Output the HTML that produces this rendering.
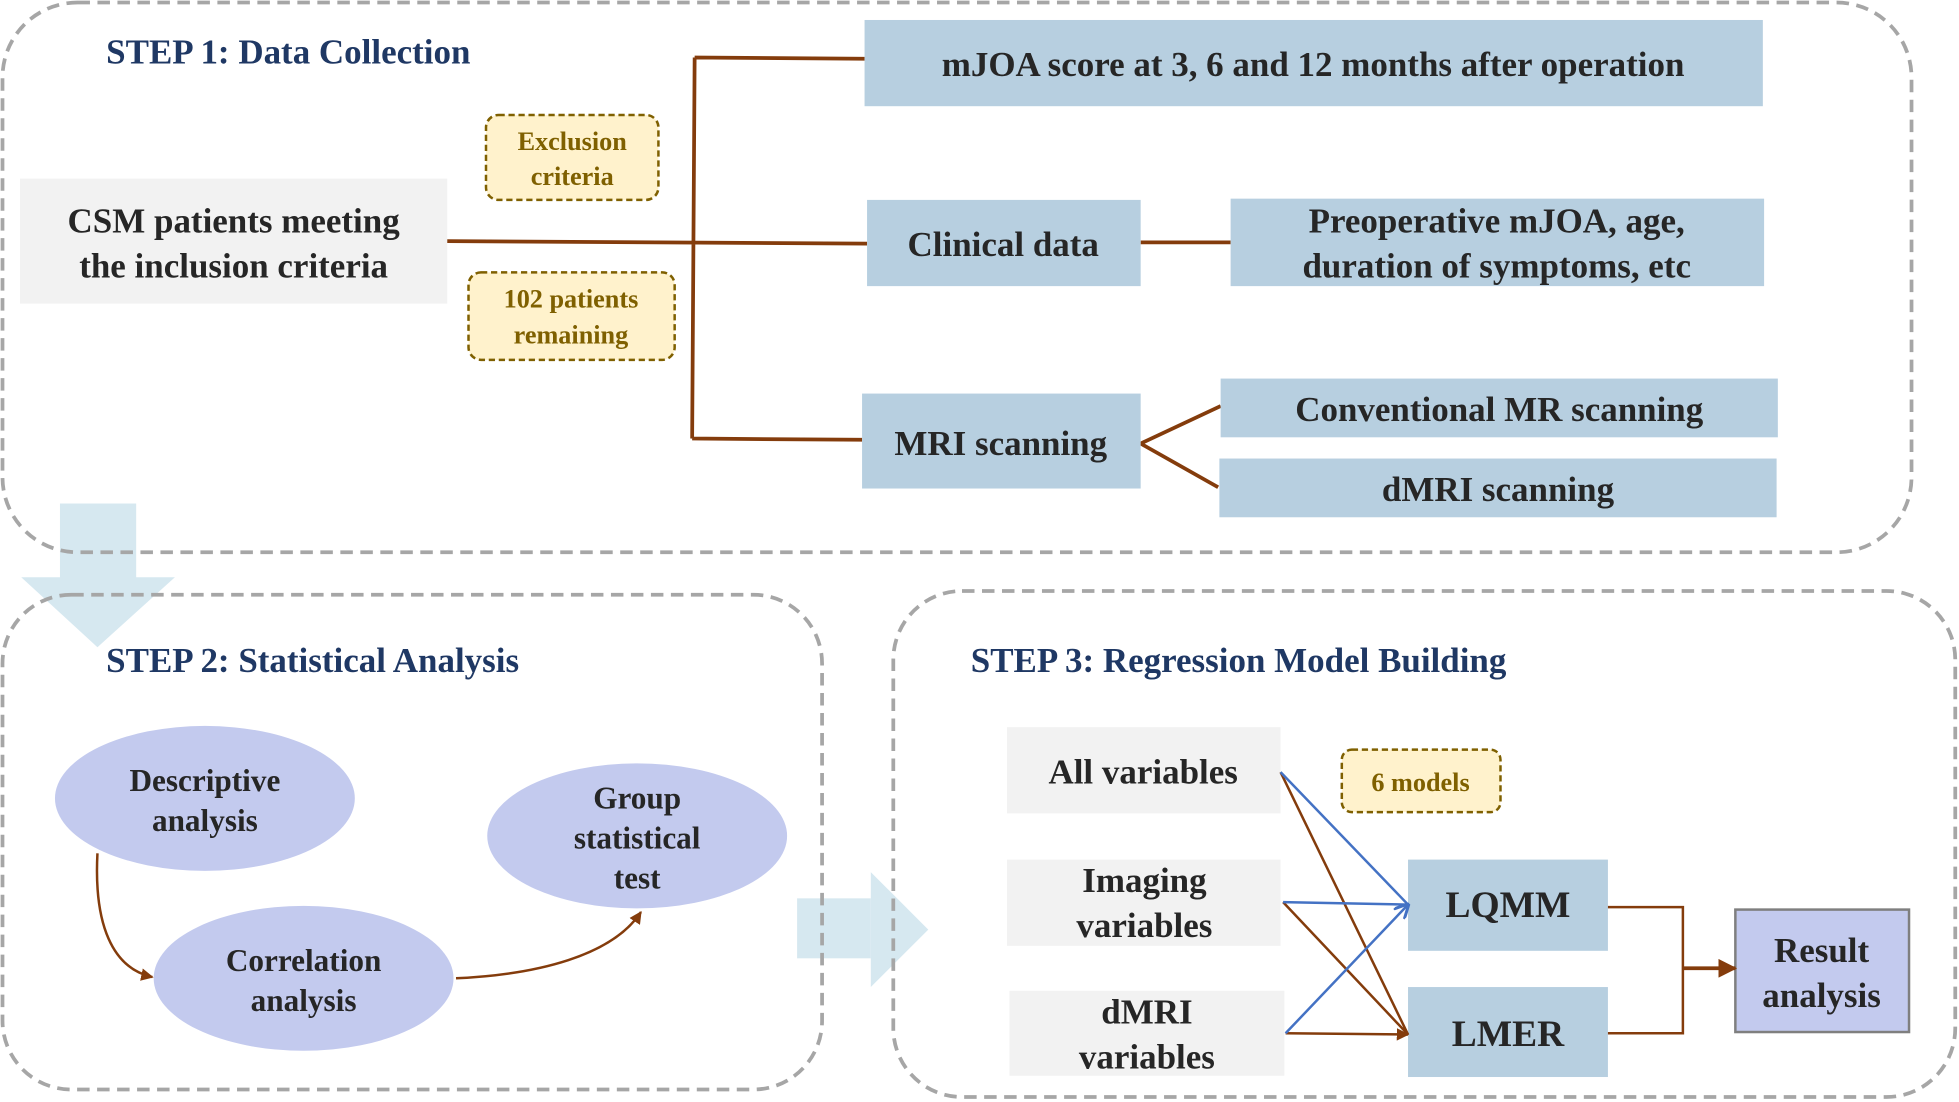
<!DOCTYPE html>
<html><head><meta charset="utf-8"><style>
html,body{margin:0;padding:0;background:#fff;width:1959px;height:1102px;overflow:hidden}
svg{display:block;font-family:"Liberation Serif","Times New Roman","DejaVu Serif",serif}
svg text{font-family:"Liberation Serif","Times New Roman","DejaVu Serif",serif !important;font-weight:bold}
.t{fill:#262626;font-size:28px}
.h{fill:#1f3864;font-size:28px}
.y{fill:#7f6000;font-size:21px}
.b{fill:#b7cfe0}
.g{fill:#f2f2f2}
.br{stroke:#843c0c;stroke-width:3;fill:none}
.ds{fill:none;stroke:#a6a6a6;stroke-width:3;stroke-dasharray:10 6}
.yb{fill:#fff2cc;stroke:#7f6000;stroke-width:2;stroke-dasharray:5 3}
.el{fill:#c3caee}
</style></head><body>
<svg width="1959" height="1102" viewBox="0 0 1568 882" preserveAspectRatio="none" font-family="Liberation Serif, serif" font-weight="bold">
<defs>
<marker id="ab" viewBox="0 0 10 10" refX="9" refY="5" markerWidth="5" markerHeight="5" orient="auto"><path d="M0,0L10,5L0,10z" fill="#843c0c"/></marker>
<marker id="ablu" viewBox="0 0 10 10" refX="9" refY="5" markerWidth="6" markerHeight="6" orient="auto"><path d="M0,0L10,5L0,10" fill="none" stroke="#4472c4" stroke-width="2"/></marker>
</defs>
<rect x="48" y="403" width="61" height="60" fill="#d6e8f0"/>
<polygon points="17,462 140,462 78,518" fill="#d6e8f0"/>
<rect x="638" y="719" width="59" height="48" fill="#d6e8f0"/>
<polygon points="697,698 697,790 743,744" fill="#d6e8f0"/>
<rect class="ds" x="2" y="2" width="1528" height="440" rx="60"/>
<rect class="ds" x="2" y="476" width="656" height="396" rx="55"/>
<rect class="ds" x="715" y="473" width="850" height="405" rx="55"/>
<text class="h" x="85" y="51">STEP 1: Data Collection</text>
<text class="h" x="85" y="538">STEP 2: Statistical Analysis</text>
<text class="h" x="777" y="538">STEP 3: Regression Model Building</text>
<rect class="g" x="16" y="143" width="342" height="100"/>
<text class="t" x="187" y="186" text-anchor="middle">CSM patients meeting</text>
<text class="t" x="187" y="222" text-anchor="middle">the inclusion criteria</text>
<rect class="yb" x="389" y="92" width="138" height="68" rx="10"/>
<text class="y" x="458" y="120" text-anchor="middle">Exclusion</text>
<text class="y" x="458" y="148" text-anchor="middle">criteria</text>
<rect class="yb" x="375" y="218" width="165" height="70" rx="10"/>
<text class="y" x="457" y="246" text-anchor="middle">102 patients</text>
<text class="y" x="457" y="275" text-anchor="middle">remaining</text>
<path class="br" d="M358,193 L694,195 M556,46 L554,351 M556,46 L692,47 M554,351 L690,352 M913,194 L985,194 M913,355 L977,325 M913,355 L975,390"/>
<rect class="b" x="692" y="16" width="719" height="69"/>
<text class="t" x="1051" y="61" text-anchor="middle">mJOA score at 3, 6 and 12 months after operation</text>
<rect class="b" x="694" y="160" width="219" height="69"/>
<text class="t" x="803" y="205" text-anchor="middle">Clinical data</text>
<rect class="b" x="985" y="159" width="427" height="70"/>
<text class="t" x="1198" y="186" text-anchor="middle">Preoperative mJOA, age,</text>
<text class="t" x="1198" y="222" text-anchor="middle">duration of symptoms, etc</text>
<rect class="b" x="690" y="315" width="223" height="76"/>
<text class="t" x="801" y="364" text-anchor="middle">MRI scanning</text>
<rect class="b" x="977" y="303" width="446" height="47"/>
<text class="t" x="1200" y="337" text-anchor="middle">Conventional MR scanning</text>
<rect class="b" x="976" y="367" width="446" height="47"/>
<text class="t" x="1199" y="401" text-anchor="middle">dMRI scanning</text>
<ellipse class="el" cx="164" cy="639" rx="120" ry="58"/>
<text class="t" style="font-size:25px" x="164" y="633" text-anchor="middle">Descriptive</text>
<text class="t" style="font-size:25px" x="164" y="665" text-anchor="middle">analysis</text>
<ellipse class="el" cx="243" cy="783" rx="120" ry="58"/>
<text class="t" style="font-size:25px" x="243" y="777" text-anchor="middle">Correlation</text>
<text class="t" style="font-size:25px" x="243" y="809" text-anchor="middle">analysis</text>
<ellipse class="el" cx="510" cy="669" rx="120" ry="58"/>
<text class="t" style="font-size:25px" x="510" y="647" text-anchor="middle">Group</text>
<text class="t" style="font-size:25px" x="510" y="679" text-anchor="middle">statistical</text>
<text class="t" style="font-size:25px" x="510" y="711" text-anchor="middle">test</text>
<path d="M78,683 C75,740 90,775 122,782" stroke="#843c0c" stroke-width="2" fill="none" marker-end="url(#ab)"/>
<path d="M365,783 C430,780 490,765 513,730" stroke="#843c0c" stroke-width="2" fill="none" marker-end="url(#ab)"/>
<rect class="g" x="806" y="582" width="219" height="69"/>
<text class="t" x="915" y="627" text-anchor="middle">All variables</text>
<rect class="g" x="806" y="688" width="219" height="69"/>
<text class="t" x="916" y="714" text-anchor="middle">Imaging</text>
<text class="t" x="916" y="750" text-anchor="middle">variables</text>
<rect class="g" x="808" y="793" width="220" height="68"/>
<text class="t" x="918" y="819" text-anchor="middle">dMRI</text>
<text class="t" x="918" y="855" text-anchor="middle">variables</text>
<rect class="yb" x="1074" y="600" width="127" height="50" rx="8"/>
<text class="y" x="1137" y="633" text-anchor="middle">6 models</text>
<rect class="b" x="1127" y="688" width="160" height="73"/>
<text class="t" x="1207" y="734" text-anchor="middle" style="font-size:30px">LQMM</text>
<rect class="b" x="1127" y="790" width="160" height="72"/>
<text class="t" x="1207" y="837" text-anchor="middle" style="font-size:30px">LMER</text>
<rect x="1389" y="728" width="139" height="98" fill="#c3caee" stroke="#7f7f7f" stroke-width="2"/>
<text class="t" x="1458" y="770" text-anchor="middle">Result</text>
<text class="t" x="1458" y="806" text-anchor="middle">analysis</text>
<path d="M1025,618 L1127,828 M1027,722 L1127,828 M1029,827 L1127,828" stroke="#843c0c" stroke-width="2" fill="none" marker-end="url(#ab)"/>
<path d="M1025,618 L1127,724 M1027,722 L1127,724 M1029,827 L1127,724" stroke="#4472c4" stroke-width="2" fill="none" marker-end="url(#ablu)"/>
<path class="br" style="stroke-width:2" d="M1287,726 L1347,726 L1347,827 L1287,827"/>
<path d="M1347,775 L1389,775" stroke="#843c0c" stroke-width="3" fill="none" marker-end="url(#ab)"/>
</svg>
</body></html>
